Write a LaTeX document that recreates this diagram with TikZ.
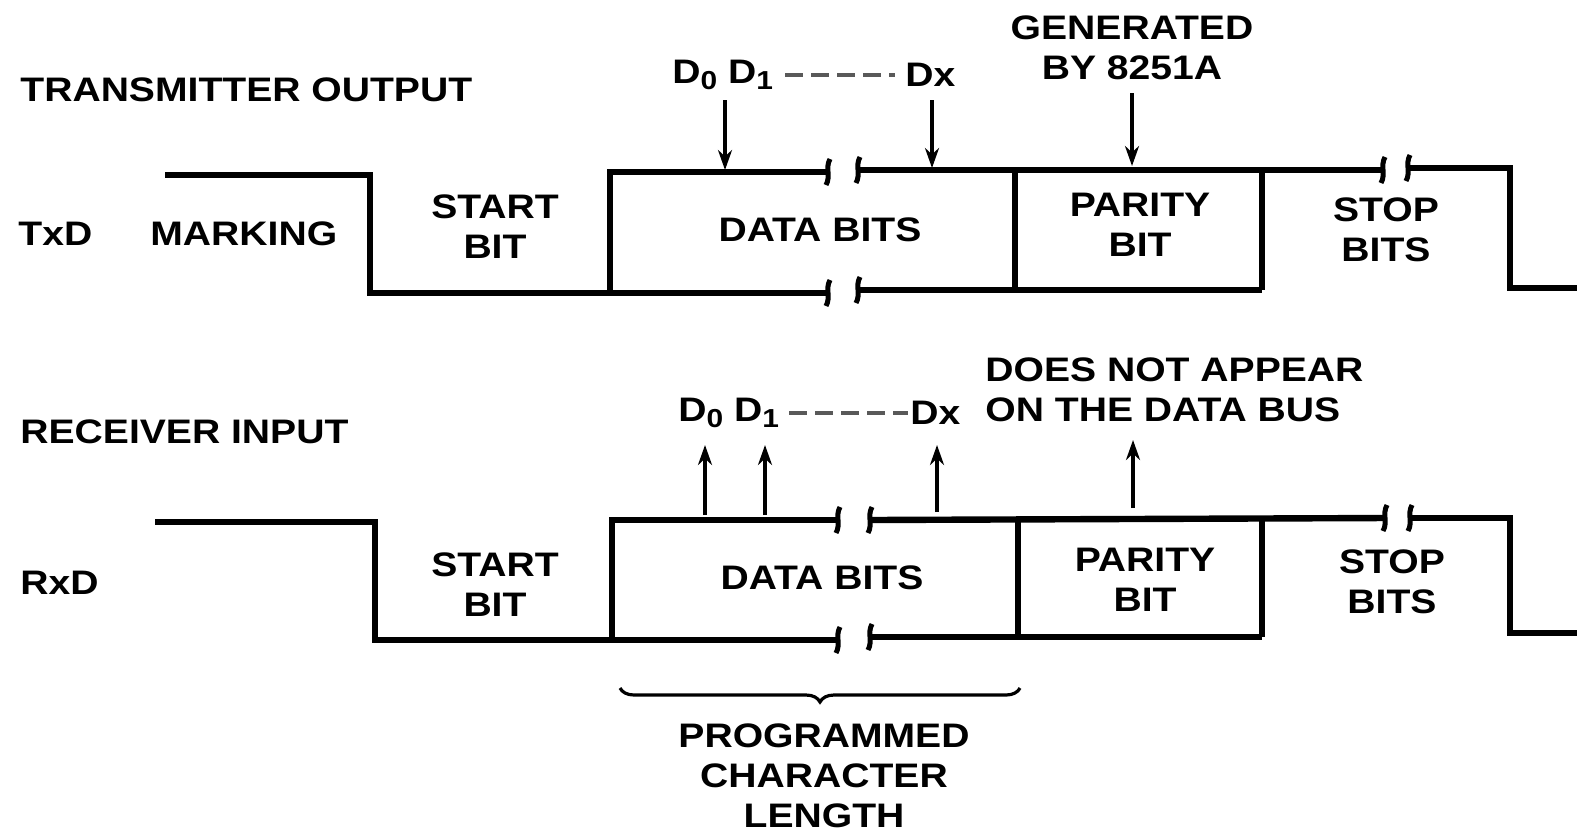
\documentclass[tikz,border=0pt]{standalone}
\usepackage{fontspec}
\setmainfont[FakeStretch=1.15]{Liberation Sans}
\usetikzlibrary{decorations.pathreplacing,arrows.meta}
\newcommand{\dsub}[1]{\raisebox{-0.35ex}{\fontsize{13}{13}\selectfont #1}}
\begin{document}
\begin{tikzpicture}[x=0.5pt,y=-0.5pt,
  wave/.style={line width=3.2pt, line join=miter},
  lbl/.style={font=\bfseries\fontsize{17}{20}\selectfont, inner sep=0pt, align=center},
  ptr/.style={line width=2pt, -{Stealth[length=10pt,width=7pt]}},
  brk/.style={line width=2.5pt},
  dsh/.style={line width=2pt, gray!70!black, dash pattern=on 9pt off 4pt}]
\useasboundingbox (0,0) rectangle (1577,837);

% ---------- Transmitter ----------
\node[lbl, anchor=west] (txtitle) at (20,90) {TRANSMITTER OUTPUT};
\node[lbl, anchor=west] (txd) at (18,234) {TxD};
\node[lbl, anchor=west] (mark) at (150,234) {MARKING};
\node[lbl] (txstart) at (495,227) {START\\BIT};
\node[lbl] (txdata) at (820,230) {DATA BITS};
\node[lbl] (txpar) at (1140,225) {PARITY\\BIT};
\node[lbl] (txstop) at (1386,230) {STOP\\BITS};
\node[lbl] (gen) at (1132,48) {GENERATED\\BY 8251A};
\node[lbl, anchor=west] (txd01) at (672,75) {D\dsub{0} D\dsub{1}};
\node[lbl, anchor=west] (txdx) at (905,75) {Dx};
\path (txd01.east) ++(12,0) coordinate (txda) (txdx.west) ++(-10,0) coordinate (txdb);
\draw[dsh] (txda) -- (txdb);

\coordinate (t1) at (165,175);
\coordinate (t2) at (370,293);
\coordinate (t3) at (828,293);
\coordinate (t4) at (610,293);
\coordinate (t5) at (828,172);
\coordinate (t6) at (858,170);
\coordinate (t7) at (1383,170);
\coordinate (t8) at (1408,168);
\coordinate (t9) at (1510,288);
\coordinate (t10) at (1577,288);
\coordinate (t11) at (858,290);
\coordinate (t12) at (1262,290);
\draw[wave] (t1) -| (t2) -- (t3);
\draw[wave] (t4) |- (t5);
\draw[wave] (t6) -- (t7);
\draw[wave] (t8) -| (t9) -- (t10);
\draw[wave] (t11) -- (t12);
\draw[wave] (1015,170) -- (1015,290);
\draw[wave] (1262,170) -- (1262,290);
% breaks
\foreach \x/\y in {828/172, 828/293, 1383/170}
  \draw[brk] (\x+2,\y-13) .. controls (\x-3,\y-4) and (\x+3,\y+4) .. (\x-2,\y+13);
\foreach \x/\y in {858/170, 858/290, 1408/168}
  \draw[brk] (\x+2,\y-13) .. controls (\x-3,\y-4) and (\x+3,\y+4) .. (\x-2,\y+13);

\coordinate (ta1) at (725,100); \coordinate (tb1) at (725,170);
\coordinate (ta2) at (932,100); \coordinate (tb2) at (932,168);
\coordinate (ta3) at (1132,93); \coordinate (tb3) at (1132,166);
\draw[ptr] (ta1) -- (tb1);
\draw[ptr] (ta2) -- (tb2);
\draw[ptr] (ta3) -- (tb3);

% ---------- Receiver ----------
\node[lbl, anchor=west] (rxtitle) at (20,432) {RECEIVER INPUT};
\node[lbl, anchor=west] (rxd) at (20,583) {RxD};
\node[lbl] (rxstart) at (495,585) {START\\BIT};
\node[lbl] (rxdata) at (822,578) {DATA BITS};
\node[lbl] (rxpar) at (1145,580) {PARITY\\BIT};
\node[lbl] (rxstop) at (1392,582) {STOP\\BITS};
\node[lbl, align=left, anchor=west] (notap) at (985,390) {DOES NOT APPEAR\\ON THE DATA BUS};
\node[lbl, anchor=west] (rxd01) at (678,413) {D\dsub{0} D\dsub{1}};
\node[lbl, anchor=west] (rxdx) at (910,413) {Dx};
\path (rxd01.east) ++(10,0) coordinate (rxda) (rxdx.west) ++(-2,0) coordinate (rxdb);
\draw[dsh] (rxda) -- (rxdb);

\coordinate (r1) at (155,522);
\coordinate (r2) at (375,640);
\coordinate (r3) at (838,640);
\coordinate (r4) at (612,640);
\coordinate (r5) at (838,520);
\coordinate (r6) at (870,520);
\coordinate (r7) at (1385,518);
\coordinate (r8) at (1410,518);
\coordinate (r9) at (1510,633);
\coordinate (r10) at (1577,633);
\coordinate (r11) at (870,637);
\coordinate (r12) at (1262,637);
\draw[wave] (r1) -| (r2) -- (r3);
\draw[wave] (r4) |- (r5);
\draw[wave] (r6) -- (r7);
\draw[wave] (r8) -| (r9) -- (r10);
\draw[wave] (r11) -- (r12);
\draw[wave] (1018,520) -- (1018,637);
\draw[wave] (1262,518) -- (1262,637);
\foreach \x/\y in {838/520, 838/640, 1385/518}
  \draw[brk] (\x+2,\y-13) .. controls (\x-3,\y-4) and (\x+3,\y+4) .. (\x-2,\y+13);
\foreach \x/\y in {870/520, 870/637, 1410/518}
  \draw[brk] (\x+2,\y-13) .. controls (\x-3,\y-4) and (\x+3,\y+4) .. (\x-2,\y+13);

\coordinate (ra1) at (705,515); \coordinate (rb1) at (705,445);
\coordinate (ra2) at (765,515); \coordinate (rb2) at (765,445);
\coordinate (ra3) at (937,512); \coordinate (rb3) at (937,445);
\coordinate (ra4) at (1133,508); \coordinate (rb4) at (1133,440);
\draw[ptr] (ra1) -- (rb1);
\draw[ptr] (ra2) -- (rb2);
\draw[ptr] (ra3) -- (rb3);
\draw[ptr] (ra4) -- (rb4);

% ---------- Brace ----------
\coordinate (bl) at (620,688);
\coordinate (br) at (1020,688);
\draw[line width=1.6pt, decorate, decoration={brace, mirror, amplitude=7pt}] (bl) -- (br);
\node[lbl] (prog) at (824,776) {PROGRAMMED\\CHARACTER\\LENGTH};
\end{tikzpicture}
\end{document}
